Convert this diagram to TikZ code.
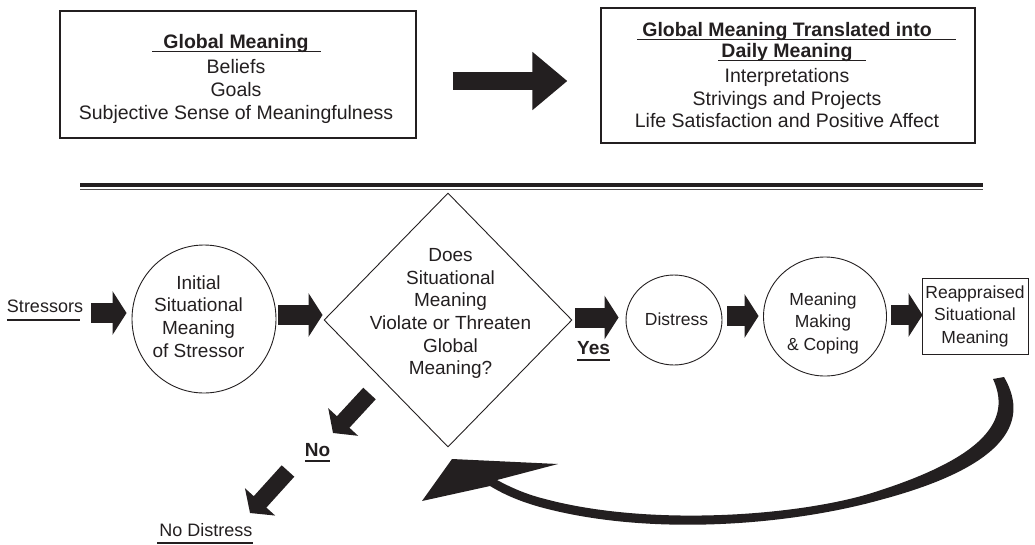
\documentclass[tikz,border=0pt]{standalone}
\usepackage{fontspec}
\setmainfont{Liberation Sans}
\usetikzlibrary{arrows.meta,shapes.geometric}
\definecolor{ink}{RGB}{35,31,32}
% underline with extra length left/right, at a given depth
\newcommand{\ulpad}[4]{\setbox0\hbox{#4}\rlap{\hspace{-#1}\rule[-#3]{\dimexpr\wd0+#1+#2\relax}{1.5pt}}\box0}

\begin{document}
\begin{tikzpicture}[x=1pt,y=-1pt,
  every node/.style={text=ink},
  box/.style={draw=ink,line width=1.2pt,inner sep=0pt},
  oval/.style={draw=ink,ellipse,line width=0.9pt,inner sep=0pt},
  toptxt/.style={align=center,inner sep=0pt,font=\fontsize{19.5}{22.6}\selectfont},
  txt/.style={align=center,inner sep=0pt,font=\fontsize{19}{22.6}\selectfont},
  smalltxt/.style={align=center,inner sep=0pt,font=\fontsize{17.5}{22.5}\selectfont},
  lbl/.style={inner sep=0pt,font=\fontsize{18}{22}\selectfont},
  boldlbl/.style={inner sep=0pt,font=\bfseries\fontsize{19}{22}\selectfont},
  blk/.style={ink,line width=20pt,-{Triangle[length=14pt,width=43pt]}},
  bigblk/.style={ink,line width=18pt,-{Triangle[length=35pt,width=56pt]}},
  diag/.style={ink,line width=17pt,-{Triangle[length=15pt,width=40pt]}}]
  \useasboundingbox (0,0) rectangle (1035,544);
  % top row
  \node[box,minimum width=356,minimum height=127] (gmbox) at (238,74.5) {};
  \node[toptxt] (gm) at (236,79) {\textbf{\ulpad{11pt}{12pt}{3.6pt}{Global Meaning}}\\[2.5pt]Beliefs\\Goals\\Subjective Sense of Meaningfulness};
  \node[box,minimum width=374,minimum height=135] (dmbox) at (788,75.5) {};
  \node[toptxt] (dm) at (787,75.4) {\textbf{\ulpad{5pt}{24pt}{3.6pt}{Global Meaning Translated into}}\\[-1.6pt]\textbf{\ulpad{3pt}{13pt}{3.6pt}{Daily Meaning}}\\[2.4pt]Interpretations\\Strivings and Projects\\Life Satisfaction and Positive Affect};
  \draw[bigblk] ([shift={(36,6.5)}]gmbox.east) -- ([shift={(-33,5.5)}]dmbox.west);
  \draw[ink,line width=4.6pt] (80,185) -- (983,185);
  \draw[ink!80,line width=1pt] (80,189) -- (983,189);
  % bottom row
  \node[lbl,anchor=base] (stress) at (45,312) {\ulpad{0pt}{-3pt}{8.5pt}{Stressors}};
  \node[oval,minimum width=144,minimum height=148] (init) at (204,319) {};
  \node[txt] (initt) at (198.5,316.5) {Initial\\Situational\\Meaning\\of Stressor};
  \node[diamond,draw=ink,line width=0.9pt,minimum width=248,minimum height=254,inner sep=0pt] (q) at (448,320) {};
  \node[txt] (qt) at (450.5,313.7) {Does\\Situational\\Meaning\\Violate or Threaten\\Global\\Meaning?};
  \node[boldlbl,anchor=base] (yes) at (593.5,354) {\ulpad{0pt}{0pt}{6.6pt}{Yes}};
  \node[oval,minimum width=96,minimum height=90] (dist) at (674,320) {};
  \node[smalltxt,anchor=base] (distt) at (676.5,325.7) {Distress};
  \node[oval,minimum width=123,minimum height=119] (mmc) at (825,316.5) {};
  \node[smalltxt] (mmct) at (823,323) {Meaning\\Making\\\& Coping};
  \node[box,line width=0.9pt,smalltxt,minimum width=106,minimum height=76] (reap) at (975,316) {Reappraised\\Situational\\Meaning};
  \node[boldlbl,anchor=base] (no) at (317.5,456) {\ulpad{0pt}{0pt}{5.6pt}{No}};
  \node[lbl,anchor=base] (nodist) at (206,536) {\ulpad{2pt}{0pt}{7.5pt}{No Distress}};
  \draw[blk] ([shift={(46,1)}]stress.base) -- ([shift={(-5,-6)}]init.west);
  \draw[blk] ([shift={(2,-4)}]init.east) -- ([shift={(-1,-5)}]q.west);
  \draw[blk] ([shift={(3,-2.5)}]q.east) -- ([shift={(-7,-2.5)}]dist.west);
  \draw[blk] ([shift={(5,-4)}]dist.east) -- ([shift={(-4.5,-0.5)}]mmc.west);
  \draw[blk] ([shift={(4.5,-1.5)}]mmc.east) -- ([shift={(1,-1)}]reap.west);
  \draw[diag] ([shift={(-78.5,73.5)}]q.center) -- ([shift={(15.5,-23)}]no.base);
  \draw[diag] ([shift={(-29.5,15)}]no.base) -- ([shift={(44,-23)}]nodist.base);
  % return arrow
  \fill[ink] (1004,377) .. controls (1032,425) and (1000,468) .. (880,500)
    .. controls (790,525) and (650,537) .. (540,507)
    .. controls (515,500) and (500,492) .. (490,486)
    -- (422,501) -- (452,459) -- (558,464) -- (497,480)
    .. controls (510,487) and (525,494) .. (545,499)
    .. controls (650,527) and (800,516) .. (875,492)
    .. controls (985,457) and (1012,420) .. (993,379) -- cycle;
\end{tikzpicture}
\end{document}
